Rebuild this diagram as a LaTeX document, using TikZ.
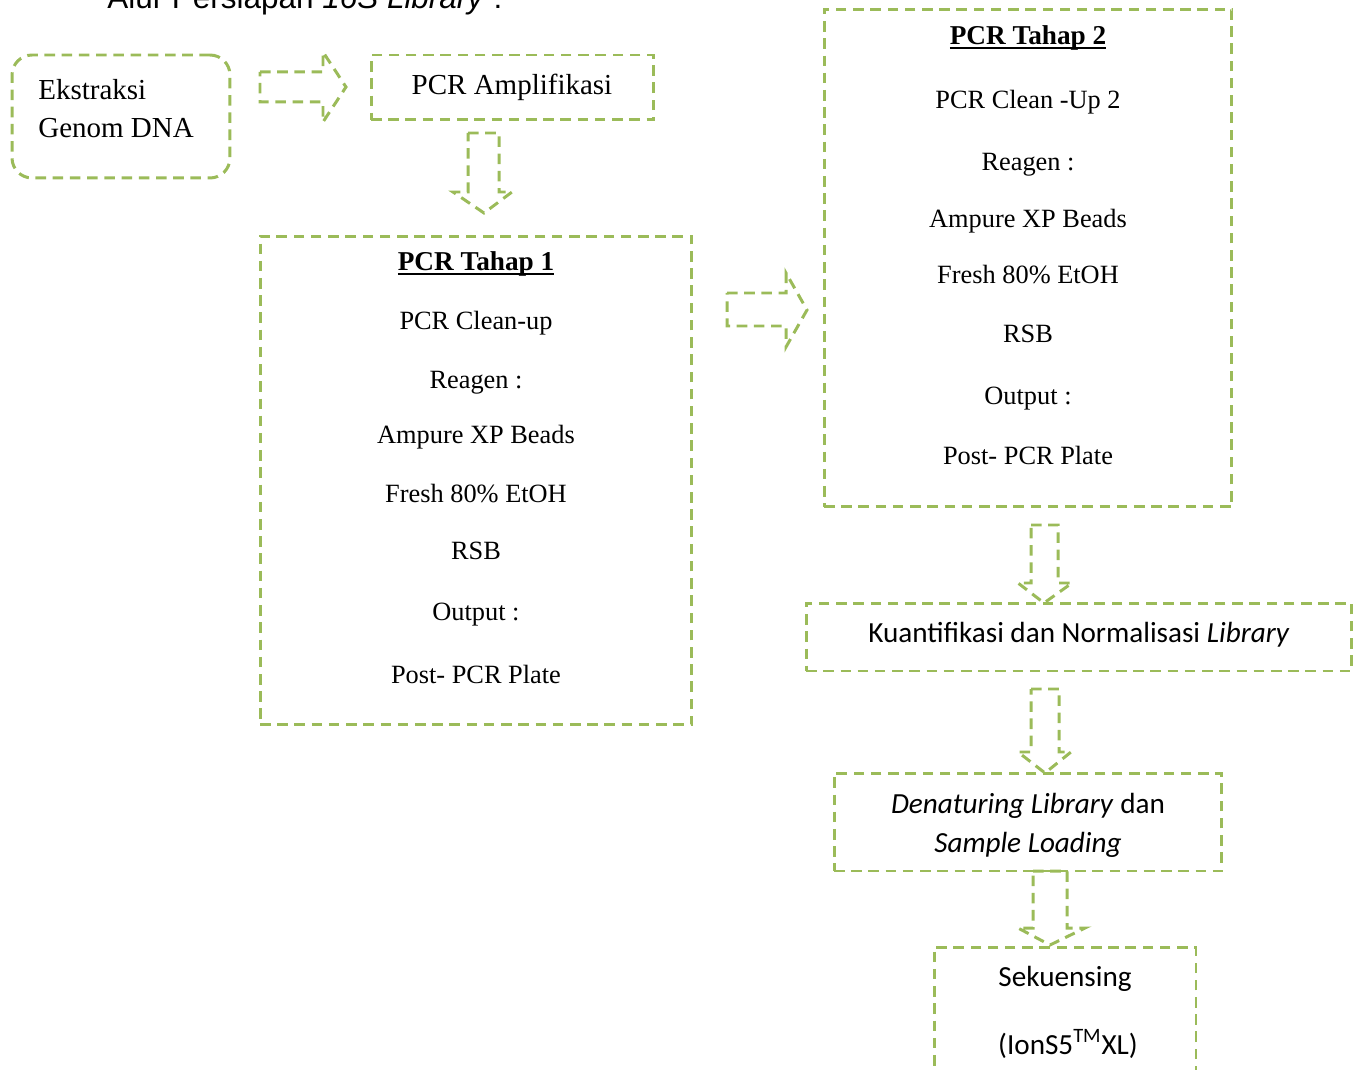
\documentclass[tikz,border=0pt]{standalone}
\usepackage{fontspec}
\setmainfont{Liberation Serif}
\newfontfamily\calibrifont{Carlito}
\newfontfamily\arialfont{Liberation Sans}
\definecolor{dashgreen}{HTML}{9BBB59}
\newcommand{\garisbawah}[1]{\setbox0\hbox{#1}\rlap{\rule[-2.4pt]{\wd0}{1.1pt}}\box0}
\tikzset{
  dashline/.style={draw=dashgreen, line width=1.7pt, dash pattern=on 6pt off 3.8pt},
  stepbox/.style={dashline, rectangle, inner sep=0pt},
  blockarrow/.style={dashline, line join=miter},
  bigtext/.style={font=\fontsize{16.5}{20}\selectfont, anchor=base, inner sep=0pt},
  boxtext/.style={font=\fontsize{15}{18}\selectfont, anchor=base, inner sep=0pt},
  headtext/.style={font=\fontsize{15.5}{18}\bfseries\selectfont, anchor=base, inner sep=0pt},
  calitext/.style={font=\calibrifont\fontsize{16.6}{20}\selectfont, anchor=base, inner sep=0pt}
}
\begin{document}
\begin{tikzpicture}[x=0.02cm,y=-0.02cm]
  \useasboundingbox (0,0) rectangle (1361,1070);
  % judul (terpotong di atas)
  \node[font=\arialfont\fontsize{17.9}{21}\selectfont, anchor=base west, inner sep=0pt] (judul) at (107,9) {Alur Persiapan \textit{16S Library} :};

  % kotak-kotak
  \node[stepbox, rounded corners=0.4cm, minimum width=4.36cm, minimum height=2.46cm] (ekstraksi) at (121,116.5) {};
  \node[stepbox, minimum width=5.66cm, minimum height=1.30cm] (amp) at (512.5,87.5) {};
  \node[stepbox, minimum width=8.64cm, minimum height=9.78cm] (tahap1) at (476,480.5) {};
  \node[stepbox, minimum width=8.16cm, minimum height=9.96cm] (tahap2) at (1028,258) {};
  \node[stepbox, minimum width=10.92cm, minimum height=1.36cm] (kuant) at (1079,637) {};
  \node[stepbox, minimum width=7.76cm, minimum height=1.96cm] (denat) at (1028,822) {};
  \node[stepbox, minimum width=5.24cm, minimum height=2.86cm] (sekuens) at (1065,1018.5) {};

  % panah blok
  \draw[blockarrow] (260,72)--(323,72)--(323,52)--(346,87)--(323,122)--(323,102)--(260,102)--cycle; %ekstraksi -> amp
  \draw[blockarrow] (468,133)--(499,133)--(499,192)--(512,192)--(484,213)--(453,192)--(468,192)--cycle; %amp -> tahap 1
  \draw[blockarrow] (727,293)--(786,293)--(786,273)--(807,310)--(786,347)--(786,326)--(727,326)--cycle; %tahap 1 -> tahap 2
  \draw[blockarrow] (1031,525)--(1058,525)--(1058,583)--(1072,583)--(1044,603)--(1018,583)--(1031,583)--cycle; %tahap 2 -> kuant
  \draw[blockarrow] (1031,689)--(1059,689)--(1059,752)--(1071,752)--(1045,773)--(1018,752)--(1031,752)--cycle; %kuant -> denat
  \draw[blockarrow] (1033,871)--(1067,871)--(1067,928)--(1085,928)--(1050,945)--(1018,928)--(1033,928)--cycle; %denat -> sekuens

  % teks
  \node[bigtext, anchor=base west] (eks1) at (38,100) {Ekstraksi};
  \node[bigtext, anchor=base west] (eks2) at (38,138) {Genom DNA};
  \node[bigtext] (amptext) at (512,95) {PCR Amplifikasi};

  \node[headtext] (t1a) at (476,271) {\garisbawah{PCR Tahap 1}};
  \node[boxtext] (t1b) at (476,330) {PCR Clean-up};
  \node[boxtext] (t1c) at (476,389) {Reagen :};
  \node[boxtext] (t1d) at (476,444) {Ampure XP Beads};
  \node[boxtext] (t1e) at (476,502) {Fresh 80\% EtOH};
  \node[boxtext] (t1f) at (476,559) {RSB};
  \node[boxtext] (t1g) at (476,620) {Output :};
  \node[boxtext] (t1h) at (476,683) {Post- PCR Plate};

  \node[headtext] (t2a) at (1028,45) {\garisbawah{PCR Tahap 2}};
  \node[boxtext] (t2b) at (1028,109) {PCR Clean -Up 2};
  \node[boxtext] (t2c) at (1028,171) {Reagen :};
  \node[boxtext] (t2d) at (1028,228) {Ampure XP Beads};
  \node[boxtext] (t2e) at (1028,284) {Fresh 80\% EtOH};
  \node[boxtext] (t2f) at (1028,343) {RSB};
  \node[boxtext] (t2g) at (1028,405) {Output :};
  \node[boxtext] (t2h) at (1028,465) {Post- PCR Plate};

  \node[calitext] (kuanttext) at (1079,642) {Kuantifikasi dan Normalisasi \textit{Library}};
  \node[calitext] (denat1) at (1028,813) {\textit{Denaturing Library} dan};
  \node[calitext] (denat2) at (1028,852) {\textit{Sample Loading}};
  \node[calitext] (sek1) at (1065,986) {Sekuensing};
  \node[calitext] (sek2) at (1068,1054) {(IonS5\textsuperscript{TM}XL)};
\end{tikzpicture}
\end{document}
